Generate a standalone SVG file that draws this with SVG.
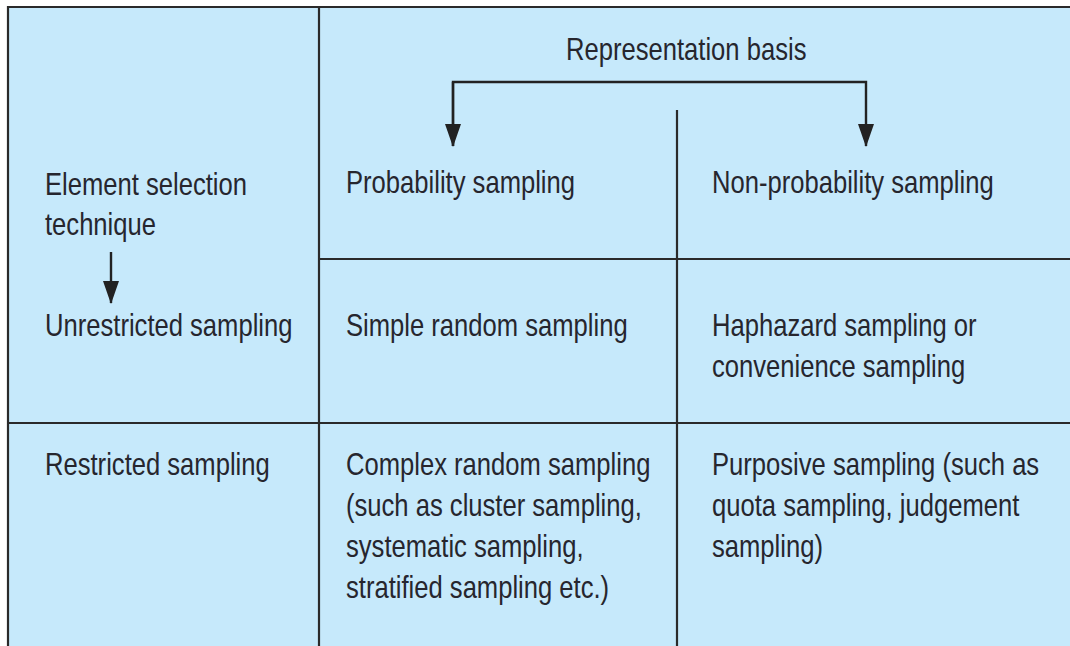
<svg xmlns="http://www.w3.org/2000/svg" width="1070" height="646" viewBox="0 0 1070 646">
<style>
.bg{fill:#c6e9fb}
.ln{stroke:#2a2a2a;stroke-width:2.2;fill:none}
.ar{stroke:#222;stroke-width:2.4;fill:none;marker-end:url(#ah)}
.t{font-family:"Liberation Sans",Arial,sans-serif;font-size:32px;fill:#26262e}
</style>
<defs>
<marker id="ah" markerUnits="userSpaceOnUse" viewBox="0 0 23 16" markerWidth="23" markerHeight="16" refX="22" refY="8" orient="auto">
<path d="M0,0 L23,8 L0,16 Z" fill="#222"/>
</marker>
</defs>
<rect x="0" y="0" width="1070" height="646" fill="#ffffff"/>
<rect class="bg" x="8" y="7" width="1062" height="639"/>
<g id="grid">
<path class="ln" d="M8,646 V7 H1070"/>
<path class="ln" d="M319,7 V646"/>
<path class="ln" d="M677,110 V646"/>
<path class="ln" d="M319,259 H1070"/>
<path class="ln" d="M8,423 H1070"/>
</g>
<g id="connectors">
<path class="ar" d="M453,146 V82 H866 V146"/>
<path class="ar" d="M453,82 V146"/>
<path class="ar" d="M111,252 V303"/>
</g>
<g id="header">
<text class="t" transform="translate(566,60) scale(0.8,1)">Representation basis</text>
</g>
<g id="element-selection">
<text class="t" transform="translate(45,195) scale(0.8,1)"><tspan x="0" y="0">Element selection</tspan><tspan x="0" y="40">technique</tspan></text>
</g>
<g id="probability">
<text class="t" transform="translate(346,193) scale(0.8,1)">Probability sampling</text>
</g>
<g id="non-probability">
<text class="t" transform="translate(712,193) scale(0.8,1)">Non-probability sampling</text>
</g>
<g id="unrestricted">
<text class="t" transform="translate(45,336) scale(0.8,1)">Unrestricted sampling</text>
</g>
<g id="simple-random">
<text class="t" transform="translate(346,336) scale(0.8,1)">Simple random sampling</text>
</g>
<g id="haphazard">
<text class="t" transform="translate(712,336) scale(0.8,1)"><tspan x="0" y="0">Haphazard sampling or</tspan><tspan x="0" y="41">convenience sampling</tspan></text>
</g>
<g id="restricted">
<text class="t" transform="translate(45,475) scale(0.8,1)">Restricted sampling</text>
</g>
<g id="complex-random">
<text class="t" transform="translate(346,475) scale(0.8,1)"><tspan x="0" y="0">Complex random sampling</tspan><tspan x="0" y="41">(such as cluster sampling,</tspan><tspan x="0" y="82">systematic sampling,</tspan><tspan x="0" y="123">stratified sampling etc.)</tspan></text>
</g>
<g id="purposive">
<text class="t" transform="translate(712,475) scale(0.8,1)"><tspan x="0" y="0">Purposive sampling (such as</tspan><tspan x="0" y="41">quota sampling, judgement</tspan><tspan x="0" y="82">sampling)</tspan></text>
</g>
</svg>
